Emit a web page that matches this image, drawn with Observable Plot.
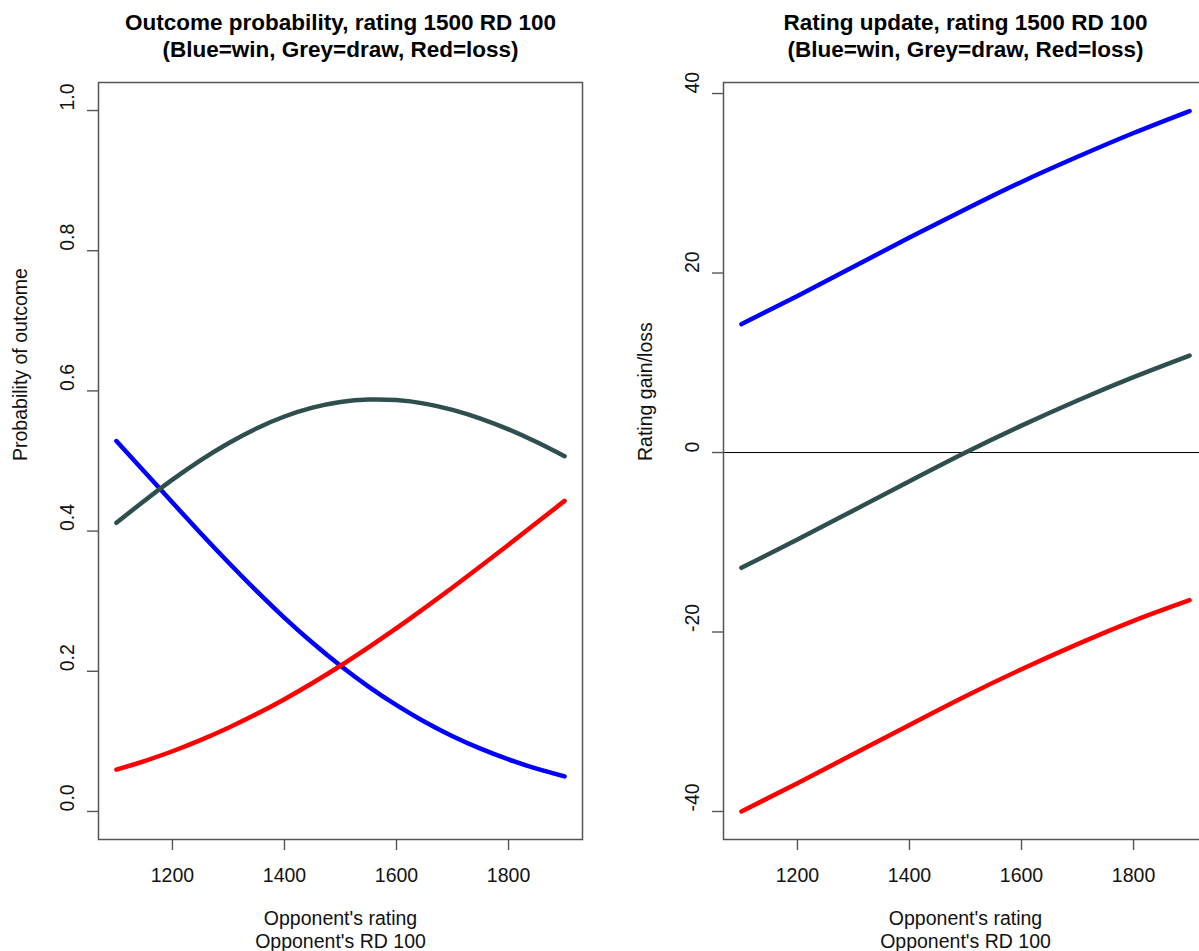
<!DOCTYPE html>
<html><head><meta charset="utf-8">
<script src="https://cdn.jsdelivr.net/npm/d3@7"></script>
<script src="https://cdn.jsdelivr.net/npm/@observablehq/plot@0.6"></script>
<style>
html,body{margin:0;padding:0;background:#fff;}
#wrap{position:relative;width:1199px;height:951px;overflow:hidden;background:#fff;}
.panel{position:absolute;top:0;width:600px;height:951px;}
.panel svg{max-width:none !important;}
</style></head><body>
<div id="wrap"><div class="panel" id="p1" style="left:0px"></div><div class="panel" id="p2" style="left:625px"></div></div>
<script>
// ---- data ----
const ratingsFine = [1100,1150,1200,1250,1300,1350,1400,1450,1500,1550,1600,1650,1700,1750,1800,1850,1900];
const winProb  = [0.5285,0.4847,0.4407,0.3973,0.3552,0.3147,0.2763,0.2407,0.2079,0.1782,0.1516,0.1280,0.1074,0.0896,0.0742,0.0611,0.0500];
const drawProb = [0.4118,0.4434,0.4734,0.5010,0.5254,0.5465,0.5635,0.5761,0.5842,0.5877,0.5869,0.5819,0.5730,0.5606,0.5452,0.5271,0.5069];
const lossProb = [0.0597,0.0719,0.0859,0.1017,0.1194,0.1389,0.1602,0.1833,0.2079,0.2341,0.2615,0.2901,0.3196,0.3498,0.3806,0.4118,0.4431];

const ratingsCoarse = [1100,1200,1300,1400,1500,1600,1700,1800,1900];
const winDelta  = [14.3,17.45,20.7,23.95,27.1,30.15,32.95,35.6,38.05];
const drawDelta = [-12.85,-9.7,-6.45,-3.2,0.0,3.0,5.8,8.4,10.8];
const lossDelta = [-40.0,-36.85,-33.6,-30.35,-27.15,-24.15,-21.35,-18.75,-16.45];

const xTicks = [1200,1400,1600,1800];
const probTicks = [0,0.2,0.4,0.6,0.8,1.0];
const probTickLabels = ["0.0","0.2","0.4","0.6","0.8","1.0"];
const deltaTicks = [-40,-20,0,20,40];
const deltaTickLabels = ["-40","-20","0","20","40"];

const outcomes = ["win","draw","loss"];
const outcomeColors = ["#0000FF","#2F4F4F","#FF0000"];

const leftTitle = ["Outcome probability, rating 1500 RD 100","(Blue=win, Grey=draw, Red=loss)"];
const rightTitle = ["Rating update, rating 1500 RD 100","(Blue=win, Grey=draw, Red=loss)"];
const xLabel = ["Opponent's rating","Opponent's RD 100"];
const leftYLabel = "Probability of outcome";
const rightYLabel = "Rating gain/loss";

// ---- build tables ----
function longTable(xs, series) {
  const rows = [];
  outcomes.forEach((o, k) => xs.forEach((x, i) => rows.push({rating: x, value: series[k][i], outcome: o})));
  return rows;
}
const probRows = longTable(ratingsFine, [winProb, drawProb, lossProb]);
const deltaRows = longTable(ratingsCoarse, [winDelta, drawDelta, lossDelta]);

const FONT = '"Liberation Sans", Arial, Helvetica, sans-serif';
const AX = "#555";
const FS = 19.5;
const TFS = 22.5;

function panel({title, ylabel, yDomain, yTicks, yTickLabels, rows, zeroLine}) {
  return Plot.plot({
    width: 600, height: 951,
    marginTop: 82, marginBottom: 112, marginLeft: 98, marginRight: 18,
    style: {fontFamily: FONT, fontSize: FS + "px", background: "white", overflow: "visible", color: "#111", maxWidth: "none"},
    x: {domain: [1068, 1932]},
    y: {domain: yDomain},
    color: {domain: outcomes, range: outcomeColors},
    marks: [
      Plot.axisX({ticks: xTicks, tickSize: 11, tickPadding: 18, tickFormat: d => String(d), label: null, stroke: AX, strokeWidth: 1.4, fontSize: FS, fill: "#111"}),
      Plot.axisY({ticks: yTicks, tickSize: 11, tickFormat: () => "", label: null, stroke: AX, strokeWidth: 1.4}),
      Plot.text(yTicks, {y: d => d, text: (d, i) => yTickLabels[i], frameAnchor: "left", dx: -31, rotate: -90, fontSize: FS, fill: "#111"}),
      zeroLine ? Plot.ruleY([0], {stroke: "#000", strokeWidth: 1}) : null,
      Plot.line(rows, {x: "rating", y: "value", stroke: "outcome", strokeWidth: 4.5, curve: "natural"}),
      Plot.frame({stroke: AX, strokeWidth: 1.5}),
      Plot.text([title[0]], {frameAnchor: "top", dy: -68, fontWeight: "bold", fontSize: TFS, fill: "#000"}),
      Plot.text([title[1]], {frameAnchor: "top", dy: -41, fontWeight: "bold", fontSize: TFS, fill: "#000"}),
      Plot.text([xLabel[0]], {frameAnchor: "bottom", dy: 85, fontSize: FS, fill: "#111"}),
      Plot.text([xLabel[1]], {frameAnchor: "bottom", dy: 108, fontSize: FS, fill: "#111"}),
      Plot.text([ylabel], {frameAnchor: "left", dx: -78, rotate: -90, fontSize: FS, fill: "#111"})
    ]
  });
}

document.getElementById("p1").appendChild(panel({
  title: leftTitle, ylabel: leftYLabel, yDomain: [-0.04, 1.04],
  yTicks: probTicks, yTickLabels: probTickLabels, rows: probRows, zeroLine: false
}));
document.getElementById("p2").appendChild(panel({
  title: rightTitle, ylabel: rightYLabel, yDomain: [-43.12, 41.23],
  yTicks: deltaTicks, yTickLabels: deltaTickLabels, rows: deltaRows, zeroLine: true
}));
</script>
</body></html>
